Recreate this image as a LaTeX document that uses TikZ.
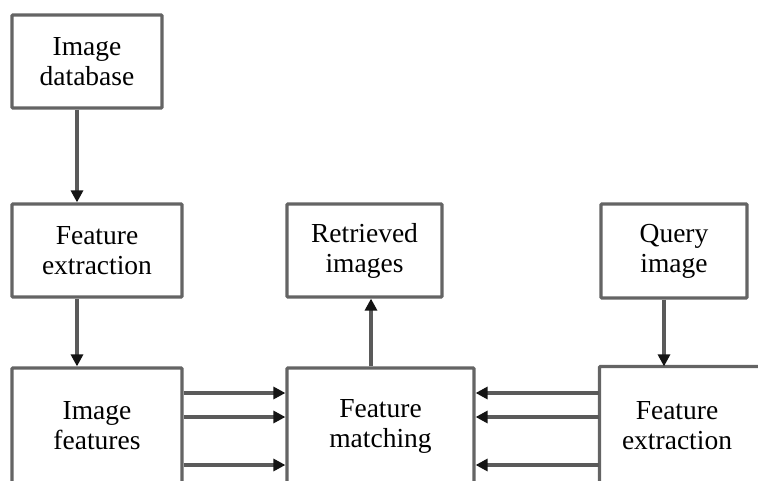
\documentclass[tikz,border=0pt]{standalone}
\usepackage{fontspec}
\setmainfont{Liberation Serif}
\usetikzlibrary{arrows.meta}
\definecolor{boxgray}{RGB}{100,100,100}
\definecolor{linegray}{RGB}{90,90,90}
\definecolor{tipdark}{RGB}{20,20,20}
\begin{document}
\begin{tikzpicture}[x=1pt,y=-1pt,
  box/.style={draw=boxgray, line width=3.2pt, rounded corners=1pt, fill=white,
    align=center, inner sep=0pt, font=\fontsize{27.5}{30}\selectfont},
  flow/.style={draw=linegray, line width=3.2pt,
    -{Triangle[length=12pt,width=12pt,color=tipdark]}},
]
\useasboundingbox (0,0) rectangle (758,481);
\clip (0,0) rectangle (758,481);

% upper row
\node[box, minimum width=150pt, minimum height=93pt] (db)  at (87,61.5)  {Image\\database};
\node[box, minimum width=170pt, minimum height=93pt] (fx1) at (97,250.5) {Feature\\extraction};
\node[box, minimum width=155pt, minimum height=93pt] (ret) at (364.5,250.5) {Retrieved\\images};
\node[box, minimum width=146pt, minimum height=94pt] (qry) at (674,251) {Query\\image};

% lower row (runs past the lower page edge)
\node[box, minimum width=170pt, minimum height=116pt] (feat)  at (97,426)    {Image\\features};
\node[box, minimum width=187pt, minimum height=116pt] (match) at (380.5,426) {Feature\\matching};
\node[box, draw=none, fill=none, minimum width=152pt, minimum height=116pt] (fx2) at (677,426) {Feature\\extraction};
\draw[boxgray, line width=3.2pt, rounded corners=1pt]
  (fx2.south west) -- (fx2.north west) -- ([xshift=30pt]fx2.north east);

% connector guides
\coordinate (c1) at (77,0);
\coordinate (c3) at (371,0);
\coordinate (c4) at (664,0);
\coordinate (r1) at (0,393);
\coordinate (r2) at (0,417);
\coordinate (r3) at (0,465);

\draw[flow] (db.south -| c1) -- (fx1.north -| c1);
\draw[flow] (fx1.south -| c1) -- (feat.north -| c1);
\draw[flow] (match.north -| c3) -- (ret.south -| c3);
\draw[flow] (qry.south -| c4) -- (fx2.north -| c4);

\foreach \r in {r1,r2,r3}{
  \draw[flow] (feat.east |- \r) -- (match.west |- \r);
  \draw[flow] (fx2.west |- \r) -- (match.east |- \r);
}
\end{tikzpicture}
\end{document}
